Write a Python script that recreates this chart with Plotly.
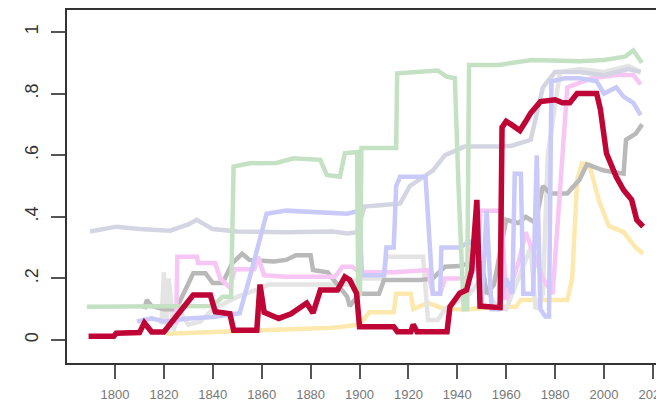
import plotly.graph_objects as go

# ---- data ----
red_years = [1789.2, 1799.5, 1800.5, 1810, 1812, 1815, 1820, 1832, 1839, 1841, 1847, 1848.5, 1858, 1859.3,
             1861, 1864, 1867, 1872, 1878.4, 1881, 1884, 1891, 1894, 1896, 1898.8, 1900, 1914, 1915.5, 1921,
             1922, 1923.5, 1935.8, 1937, 1941, 1943.8, 1945.9, 1948, 1949.3, 1952, 1956, 1957.5, 1958.3,
             1960, 1962, 1965.6, 1968, 1970, 1974, 1980, 1983, 1986, 1989, 1997, 1998.5, 2001, 2005, 2008,
             2011.3, 2013.4, 2016]
red_vals = [0.012, 0.012, 0.022, 0.024, 0.056, 0.026, 0.026, 0.146, 0.146, 0.092, 0.085, 0.032, 0.032, 0.18,
            0.09, 0.08, 0.07, 0.085, 0.12, 0.088, 0.162, 0.162, 0.205, 0.195, 0.152, 0.043, 0.043, 0.027, 0.027,
            0.05, 0.027, 0.027, 0.108, 0.152, 0.162, 0.227, 0.455, 0.11, 0.108, 0.105, 0.105, 0.69,
            0.71, 0.70, 0.68, 0.71, 0.737, 0.774, 0.78, 0.77, 0.77, 0.80, 0.80, 0.75, 0.606, 0.53, 0.487,
            0.455, 0.39, 0.368]

green_years = [1788.5, 1800, 1812, 1840, 1844, 1847.5, 1848.5, 1855, 1866, 1873, 1884, 1886.6, 1892, 1894,
               1899, 1899.5, 1900.2, 1900.8, 1915, 1915.4, 1925, 1932, 1935.6, 1939, 1940.5, 1942.6, 1944,
               1944.8, 1957, 1970.5, 1990, 2000, 2008.6, 2012, 2015.5]
green_vals = [0.108, 0.108, 0.11, 0.11, 0.14, 0.14, 0.563, 0.574, 0.575, 0.59, 0.585, 0.536, 0.53, 0.606,
              0.61, 0.15, 0.15, 0.623, 0.623, 0.866, 0.871, 0.875, 0.855, 0.85, 0.5, 0.1, 0.1,
              0.893, 0.893, 0.909, 0.905, 0.909, 0.92, 0.94, 0.9]

slate_years = [1789.8, 1800.7, 1810, 1822.5, 1830, 1833.4, 1840, 1850, 1870, 1889, 1895, 1899, 1902, 1916.6,
               1920.6, 1930, 1935, 1940, 1943, 1957, 1962, 1970, 1975, 1980, 1990, 2000, 2010, 2015]
slate_vals = [0.352, 0.368, 0.36, 0.355, 0.375, 0.39, 0.36, 0.352, 0.35, 0.352, 0.346, 0.35, 0.433, 0.443,
              0.5, 0.55, 0.6, 0.62, 0.628, 0.628, 0.63, 0.65, 0.82, 0.87, 0.87, 0.86, 0.88, 0.87]

lav_years = [1809, 1815, 1820, 1830, 1840, 1851, 1855, 1862, 1870, 1880, 1895, 1900, 1901, 1910, 1911, 1914,
             1915, 1916.6, 1927, 1930, 1933, 1933.5, 1941, 1945, 1948, 1950, 1952, 1954, 1957, 1960, 1962.5,
             1963.5, 1966, 1967, 1971, 1972.5, 1974, 1976, 1977.5, 1978.5, 1984, 1990, 1997, 2000, 2005,
             2008, 2012, 2015]
lav_vals = [0.06, 0.07, 0.06, 0.07, 0.075, 0.087, 0.2, 0.41, 0.42, 0.415, 0.41, 0.42, 0.21, 0.21, 0.30, 0.30,
            0.50, 0.53, 0.53, 0.15, 0.15, 0.30, 0.30, 0.32, 0.3, 0.12, 0.42, 0.1, 0.1, 0.2, 0.15,
            0.54, 0.54, 0.15, 0.15, 0.6, 0.1, 0.076, 0.076, 0.84, 0.85, 0.85, 0.84, 0.8, 0.82,
            0.79, 0.77, 0.73]

pink_years = [1825, 1825.5, 1833.5, 1834, 1841, 1843, 1847, 1849, 1857, 1858.5, 1861, 1870, 1880, 1890, 1893,
              1897, 1900, 1914, 1928, 1930, 1933, 1935, 1945, 1948, 1949.5, 1958, 1960, 1965, 1968, 1975,
              1979, 1985, 1995, 2005, 2012, 2015]
pink_vals = [0.05, 0.27, 0.27, 0.25, 0.25, 0.2, 0.17, 0.23, 0.23, 0.27, 0.21, 0.205, 0.205, 0.205, 0.238,
             0.238, 0.22, 0.22, 0.227, 0.15, 0.15, 0.2, 0.2, 0.25, 0.42, 0.42, 0.13, 0.25, 0.35, 0.2,
             0.15, 0.82, 0.85, 0.86, 0.86, 0.83]

gray_years = [1812, 1813, 1815, 1820, 1825, 1828, 1832, 1837, 1840, 1844, 1848, 1852, 1855, 1865, 1870, 1874,
              1880, 1881, 1887, 1895, 1896, 1900, 1908, 1910, 1925, 1930, 1935, 1941, 1945, 1950, 1952,
              1955, 1960, 1965, 1968, 1972, 1975, 1978, 1985, 1990, 1993, 2000, 2008, 2009, 2013, 2015.6]
gray_vals = [0.1, 0.13, 0.11, 0.1, 0.1, 0.15, 0.217, 0.217, 0.185, 0.185, 0.25, 0.28, 0.26, 0.255, 0.26, 0.275,
             0.275, 0.227, 0.22, 0.14, 0.11, 0.15, 0.15, 0.195, 0.195, 0.2, 0.238, 0.24, 0.25, 0.25, 0.15,
             0.18, 0.39, 0.38, 0.4, 0.38, 0.5, 0.476, 0.476, 0.52, 0.57, 0.55, 0.54, 0.65, 0.67, 0.70]

yellow_years = [1821, 1840, 1857, 1870, 1889, 1895, 1900, 1904, 1914, 1915, 1921, 1922, 1928, 1935, 1945, 1957,
                1964, 1966, 1985, 1987, 1989, 1991, 1994, 1998, 2002, 2008, 2013, 2016]
yellow_vals = [0.02, 0.025, 0.03, 0.035, 0.04, 0.045, 0.05, 0.09, 0.09, 0.15, 0.15, 0.1, 0.12, 0.1, 0.1, 0.108,
               0.108, 0.13, 0.13, 0.2, 0.52, 0.574, 0.57, 0.45, 0.37, 0.35, 0.30, 0.28]

silver_years = [1819, 1820, 1821, 1822, 1824, 1826, 1830, 1835, 1840, 1845, 1850, 1860, 1863, 1895, 1900, 1910,
                1911, 1926, 1928, 1932, 1935, 1945, 1950, 1955, 1960, 1965, 1970, 1972, 1975, 1977, 1982, 1990,
                2000, 2010, 2015]
silver_vals = [0.05, 0.22, 0.05, 0.2, 0.03, 0.1, 0.05, 0.06, 0.1, 0.12, 0.14, 0.17, 0.18, 0.18, 0.2, 0.2,
               0.27, 0.27, 0.065, 0.065, 0.1, 0.15, 0.2, 0.12, 0.1, 0.2, 0.3, 0.1, 0.15, 0.6, 0.87, 0.88,
               0.87, 0.89, 0.87]

x_ticks = [1800, 1820, 1840, 1860, 1880, 1900, 1920, 1940, 1960, 1980, 2000, 2020]
y_ticks = [0, 0.2, 0.4, 0.6, 0.8, 1]
y_tick_labels = ["0", ".2", ".4", ".6", ".8", "1"]

series = [
    (yellow_years, yellow_vals, "#fde9ae", 4.5),
    (silver_years, silver_vals, "#e4e4e4", 4.5),
    (gray_years, gray_vals, "#b9b9b9", 4.5),
    (pink_years, pink_vals, "#f7c6f4", 4.5),
    (slate_years, slate_vals, "#d3d6e2", 4.5),
    (lav_years, lav_vals, "#c9c9fa", 4.5),
    (green_years, green_vals, "#c4e1c4", 4.5),
    (red_years, red_vals, "#bf0436", 5.5),
]

fig = go.Figure()
for xs, ys, col, w in series:
    fig.add_trace(go.Scatter(x=xs, y=ys, mode="lines",
                             line=dict(color=col, width=w, shape="linear"),
                             hoverinfo="skip", showlegend=False))

# page body adds an 8px margin, so the figure is sized/offset to compensate
fig.update_layout(
    width=656, height=393,
    margin=dict(l=59, r=0, t=2, b=38, autoexpand=False),
    paper_bgcolor="white", plot_bgcolor="white",
    font=dict(family="Liberation Sans, Arial, sans-serif", color="#444"),
)
fig.update_xaxes(
    range=[1780.37, 2024.54], tickvals=x_ticks, ticktext=[str(v) for v in x_ticks],
    ticks="outside", ticklen=14, tickwidth=1.5, tickcolor="#555",
    tickfont=dict(size=13, color="#777"), ticklabelstandoff=4, ticklabeloverflow="allow",
    automargin=False,
    showline=True, linecolor="#333", linewidth=2, mirror=True,
    showgrid=False, zeroline=False,
)
fig.update_yaxes(
    range=[-0.0747, 1.0714], tickvals=y_ticks, ticktext=y_tick_labels,
    ticks="outside", ticklen=14, tickwidth=1.5, tickcolor="#555",
    tickfont=dict(size=18, color="#333"), tickangle=-90, ticklabelstandoff=6,
    automargin=False,
    showline=True, linecolor="#333", linewidth=2, mirror=False,
    showgrid=False, zeroline=False,
)

fig.write_html("out.html")
